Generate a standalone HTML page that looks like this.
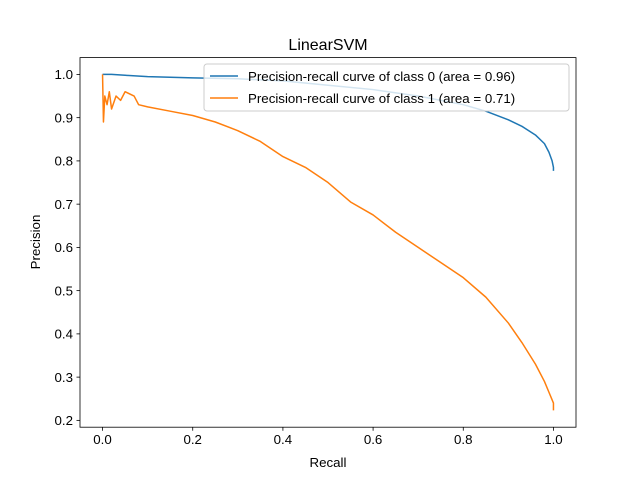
<!DOCTYPE html>
<html><head><meta charset="utf-8"><style>
body{margin:0;background:#fff}
svg{font-family:"Liberation Sans","DejaVu Sans",sans-serif}
</style></head><body>
<svg id="chart" width="640" height="480" viewBox="0 0 640 480">
<rect width="640" height="480" fill="#fff"/>
<g id="plot"></g>
</svg>
<script>
const xTicks=[0,0.2,0.4,0.6,0.8,1.0];
const yTicks=[0.2,0.3,0.4,0.5,0.6,0.7,0.8,0.9,1.0];
const recall0=[0,0.02,0.05,0.1,0.2,0.3,0.4,0.5,0.6,0.7,0.8,0.85,0.9,0.93,0.96,0.98,0.99,0.997,1.0,1.0];
const precision0=[1.0,1.0,0.998,0.995,0.992,0.99,0.985,0.975,0.965,0.95,0.93,0.915,0.895,0.88,0.86,0.84,0.82,0.80,0.785,0.777];
const recall1=[0,0.002,0.005,0.01,0.015,0.02,0.03,0.04,0.05,0.07,0.08,0.1,0.15,0.2,0.25,0.3,0.35,0.4,0.45,0.5,0.55,0.6,0.65,0.7,0.75,0.8,0.85,0.9,0.93,0.96,0.98,0.99,1.0,1.0];
const precision1=[1.0,0.89,0.95,0.93,0.96,0.92,0.95,0.94,0.96,0.95,0.93,0.925,0.915,0.905,0.89,0.87,0.845,0.81,0.785,0.75,0.705,0.675,0.635,0.6,0.565,0.53,0.485,0.425,0.38,0.33,0.29,0.265,0.24,0.223];
const L=80,R=576,T=57.6,B=427.2;
const xMin=-0.05,xMax=1.05,yMin=0.1842,yMax=1.0389;
const sx=v=>L+(v-xMin)/(xMax-xMin)*(R-L);
const sy=v=>B-(v-yMin)/(yMax-yMin)*(B-T);
const NS="http://www.w3.org/2000/svg";
const g=document.getElementById('plot');
function mk(tag,attrs,text){const e=document.createElementNS(NS,tag);for(const k in attrs)e.setAttribute(k,attrs[k]);if(text!=null)e.textContent=text;g.appendChild(e);return e;}
function series(xs,ys,color,name){
 const d=xs.map((x,i)=>(i?'L':'M')+sx(x).toFixed(2)+','+sy(ys[i]).toFixed(2)).join('');
 const p=mk('path',{d:d,fill:'none',stroke:color,'stroke-width':1.5,'stroke-linejoin':'round'});
 
 
}
series(recall0,precision0,'#1f77b4','class-0-curve');
series(recall1,precision1,'#ff7f0e','class-1-curve');
const frame=mk('rect',{x:L,y:T,width:R-L,height:B-T,fill:'none',stroke:'#000','stroke-width':0.8});


xTicks.forEach(v=>{
 const x=sx(v);
 mk('line',{x1:x,x2:x,y1:B,y2:B+3.5,stroke:'#000','stroke-width':0.8});
 const t=mk('text',{x:x,y:B+17,'font-size':13.3,'text-anchor':'middle'},v.toFixed(1));
 
 
});
yTicks.forEach(v=>{
 const y=sy(v);
 mk('line',{x1:L-3.5,x2:L,y1:y,y2:y,stroke:'#000','stroke-width':0.8});
 const t=mk('text',{x:L-7,y:y+4.8,'font-size':13.3,'text-anchor':'end'},v.toFixed(1));
 
 
});
const xt=mk('text',{x:(L+R)/2,y:467,'font-size':13.3,'text-anchor':'middle'},'Recall');


const yt=mk('text',{x:0,y:0,'font-size':13.3,'text-anchor':'middle',transform:'translate(40,242) rotate(-90)'},'Precision');


const tt=mk('text',{x:(L+R)/2,y:50,'font-size':16,'text-anchor':'middle'},'LinearSVM');


const lg=mk('rect',{x:204,y:64,width:365,height:47,rx:3,fill:'#fff','fill-opacity':0.8,stroke:'#ccc','stroke-width':1});


[['#1f77b4','Precision-recall curve of class 0 (area = 0.96)',76],['#ff7f0e','Precision-recall curve of class 1 (area = 0.71)',98]].forEach(([c,txt,y])=>{
 mk('line',{x1:210,x2:238,y1:y,y2:y,stroke:c,'stroke-width':1.5});
 const t=mk('text',{x:248,y:y+5,'font-size':13.3},txt);
 
 
});
</script>
</body></html>
